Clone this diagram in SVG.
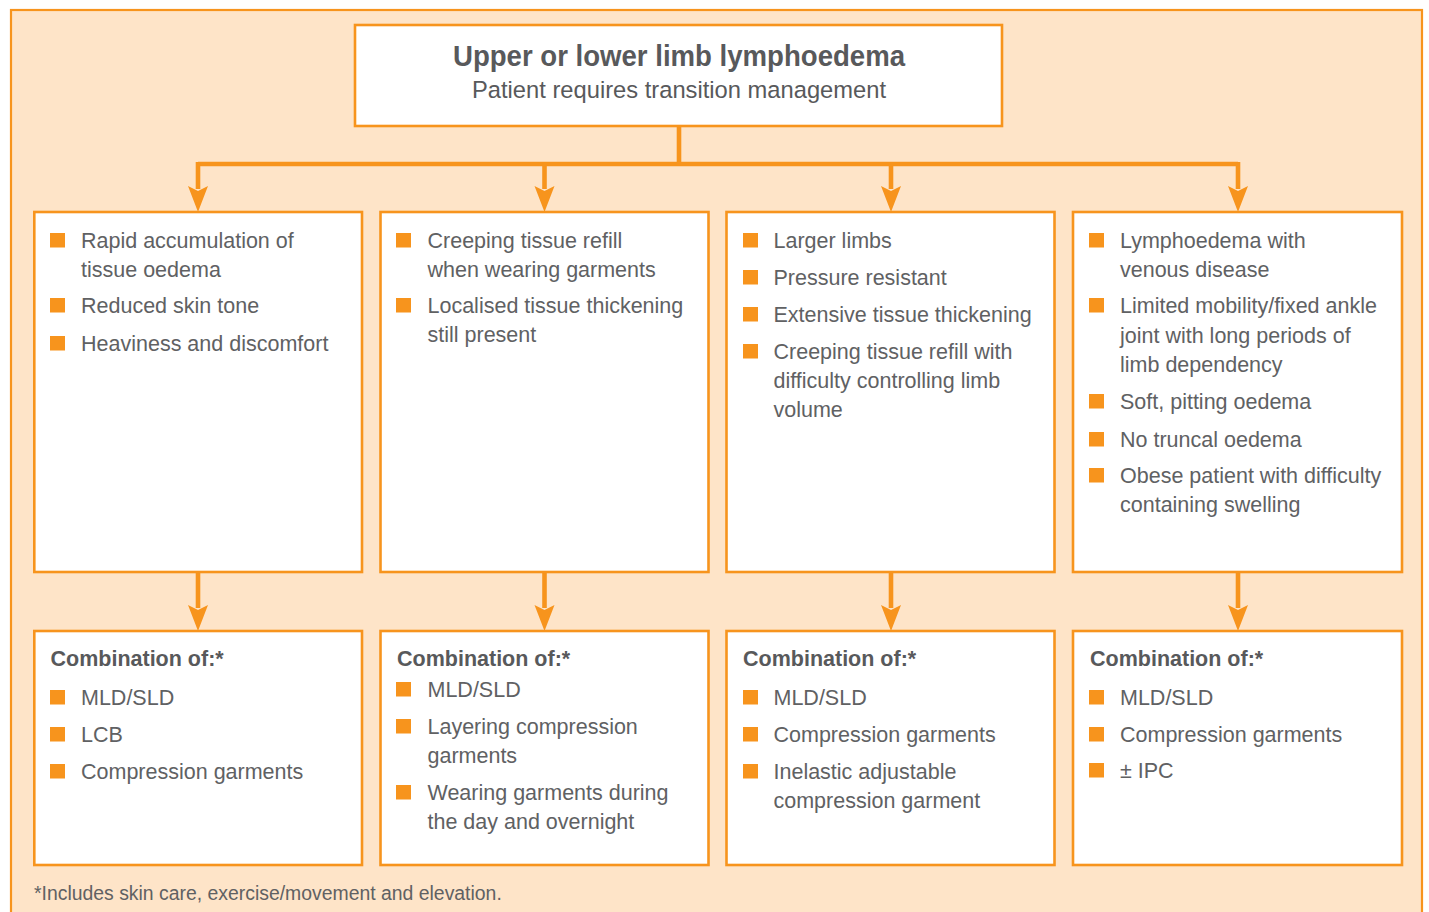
<svg xmlns="http://www.w3.org/2000/svg" width="1429" height="912" viewBox="0 0 1429 912">
<defs>
<style>
.frame{fill:#fee4c8;stroke:#f7941d;stroke-width:2.2}
.box{fill:#ffffff;stroke:#f7941d;stroke-width:2.6}
.conn{fill:none;stroke:#f7941d;stroke-width:4.6}
.b{fill:#f7941d}
.t{font-family:"Liberation Sans",Arial,sans-serif;font-size:21.5px;fill:#606163}
.h{font-family:"Liberation Sans",Arial,sans-serif;font-size:21.5px;font-weight:bold;fill:#58595b}
.title{font-family:"Liberation Sans",Arial,sans-serif;font-size:29px;font-weight:bold;fill:#58595b}
.sub{font-family:"Liberation Sans",Arial,sans-serif;font-size:23.7px;fill:#58595b}
.foot{font-family:"Liberation Sans",Arial,sans-serif;font-size:19.4px;fill:#606163}
</style>
<marker id="arr" markerUnits="userSpaceOnUse" markerWidth="30" markerHeight="24" viewBox="0 -12 30 24" refX="3" refY="0" orient="auto">
<path d="M0,-10 L26,0 L0,10 L5,0 Z" fill="#f7941d"/>
</marker>
</defs>
<rect class="frame" x="11" y="10" width="1411" height="930"/>

<g id="connectors">
<path class="conn" d="M679,127 V164"/>
<path class="conn" d="M198,164 H1238"/>
<path class="conn" d="M198,162 V189" marker-end="url(#arr)"/>
<path class="conn" d="M544.5,164 V189" marker-end="url(#arr)"/>
<path class="conn" d="M891,164 V189" marker-end="url(#arr)"/>
<path class="conn" d="M1238,162 V189" marker-end="url(#arr)"/>
<path class="conn" d="M198,573 V608" marker-end="url(#arr)"/>
<path class="conn" d="M544.5,573 V608" marker-end="url(#arr)"/>
<path class="conn" d="M891,573 V608" marker-end="url(#arr)"/>
<path class="conn" d="M1238,573 V608" marker-end="url(#arr)"/>
</g>

<g id="top">
<rect class="box" x="355" y="25" width="647" height="101"/>
<text class="title" x="453" y="66" textLength="452" lengthAdjust="spacingAndGlyphs">Upper or lower limb lymphoedema</text>
<text class="sub" x="472" y="98" textLength="414" lengthAdjust="spacingAndGlyphs">Patient requires transition management</text>
</g>

<g id="c1">
<rect class="box" x="34.3" y="212" width="327.7" height="360"/>
<rect class="b" x="50" y="233" width="15" height="14.5"/>
<text class="t" x="81" y="248">Rapid accumulation of</text>
<text class="t" x="81" y="277">tissue oedema</text>
<rect class="b" x="50" y="298" width="15" height="14.5"/>
<text class="t" x="81" y="313">Reduced skin tone</text>
<rect class="b" x="50" y="336" width="15" height="14.5"/>
<text class="t" x="81" y="351">Heaviness and discomfort</text>
</g>

<g id="c2">
<rect class="box" x="380.5" y="212" width="328" height="360"/>
<rect class="b" x="396" y="233" width="15" height="14.5"/>
<text class="t" x="427.5" y="248">Creeping tissue refill</text>
<text class="t" x="427.5" y="277">when wearing garments</text>
<rect class="b" x="396" y="298" width="15" height="14.5"/>
<text class="t" x="427.5" y="313">Localised tissue thickening</text>
<text class="t" x="427.5" y="342">still present</text>
</g>

<g id="c3">
<rect class="box" x="726.5" y="212" width="328" height="360"/>
<rect class="b" x="743" y="233" width="15" height="14.5"/>
<text class="t" x="773.5" y="248">Larger limbs</text>
<rect class="b" x="743" y="270" width="15" height="14.5"/>
<text class="t" x="773.5" y="285">Pressure resistant</text>
<rect class="b" x="743" y="307" width="15" height="14.5"/>
<text class="t" x="773.5" y="322">Extensive tissue thickening</text>
<rect class="b" x="743" y="344" width="15" height="14.5"/>
<text class="t" x="773.5" y="359">Creeping tissue refill with</text>
<text class="t" x="773.5" y="388">difficulty controlling limb</text>
<text class="t" x="773.5" y="417">volume</text>
</g>

<g id="c4">
<rect class="box" x="1073" y="212" width="329" height="360"/>
<rect class="b" x="1089" y="233" width="15" height="14.5"/>
<text class="t" x="1120" y="248">Lymphoedema with</text>
<text class="t" x="1120" y="277">venous disease</text>
<rect class="b" x="1089" y="298" width="15" height="14.5"/>
<text class="t" x="1120" y="313">Limited mobility/fixed ankle</text>
<text class="t" x="1120" y="343">joint with long periods of</text>
<text class="t" x="1120" y="372">limb dependency</text>
<rect class="b" x="1089" y="394" width="15" height="14.5"/>
<text class="t" x="1120" y="409">Soft, pitting oedema</text>
<rect class="b" x="1089" y="432" width="15" height="14.5"/>
<text class="t" x="1120" y="447">No truncal oedema</text>
<rect class="b" x="1089" y="468" width="15" height="14.5"/>
<text class="t" x="1120" y="483">Obese patient with difficulty</text>
<text class="t" x="1120" y="512">containing swelling</text>
</g>

<g id="r1">
<rect class="box" x="34.3" y="631" width="327.7" height="234"/>
<text class="h" x="50.5" y="666">Combination of:*</text>
<rect class="b" x="50" y="690" width="15" height="14.5"/>
<text class="t" x="81" y="705">MLD/SLD</text>
<rect class="b" x="50" y="727" width="15" height="14.5"/>
<text class="t" x="81" y="742">LCB</text>
<rect class="b" x="50" y="764" width="15" height="14.5"/>
<text class="t" x="81" y="779">Compression garments</text>
</g>

<g id="r2">
<rect class="box" x="380.5" y="631" width="328" height="234"/>
<text class="h" x="397" y="666">Combination of:*</text>
<rect class="b" x="396" y="682" width="15" height="14.5"/>
<text class="t" x="427.5" y="697">MLD/SLD</text>
<rect class="b" x="396" y="719" width="15" height="14.5"/>
<text class="t" x="427.5" y="734">Layering compression</text>
<text class="t" x="427.5" y="763">garments</text>
<rect class="b" x="396" y="785" width="15" height="14.5"/>
<text class="t" x="427.5" y="800">Wearing garments during</text>
<text class="t" x="427.5" y="829">the day and overnight</text>
</g>

<g id="r3">
<rect class="box" x="726.5" y="631" width="328" height="234"/>
<text class="h" x="743" y="666">Combination of:*</text>
<rect class="b" x="743" y="690" width="15" height="14.5"/>
<text class="t" x="773.5" y="705">MLD/SLD</text>
<rect class="b" x="743" y="727" width="15" height="14.5"/>
<text class="t" x="773.5" y="742">Compression garments</text>
<rect class="b" x="743" y="764" width="15" height="14.5"/>
<text class="t" x="773.5" y="779">Inelastic adjustable</text>
<text class="t" x="773.5" y="808">compression garment</text>
</g>

<g id="r4">
<rect class="box" x="1073" y="631" width="329" height="234"/>
<text class="h" x="1090" y="666">Combination of:*</text>
<rect class="b" x="1089" y="690" width="15" height="14.5"/>
<text class="t" x="1120" y="705">MLD/SLD</text>
<rect class="b" x="1089" y="727" width="15" height="14.5"/>
<text class="t" x="1120" y="742">Compression garments</text>
<rect class="b" x="1089" y="763" width="15" height="14.5"/>
<text class="t" x="1120" y="778">± IPC</text>
</g>

<text class="foot" x="34" y="900">*Includes skin care, exercise/movement and elevation.</text>
</svg>
